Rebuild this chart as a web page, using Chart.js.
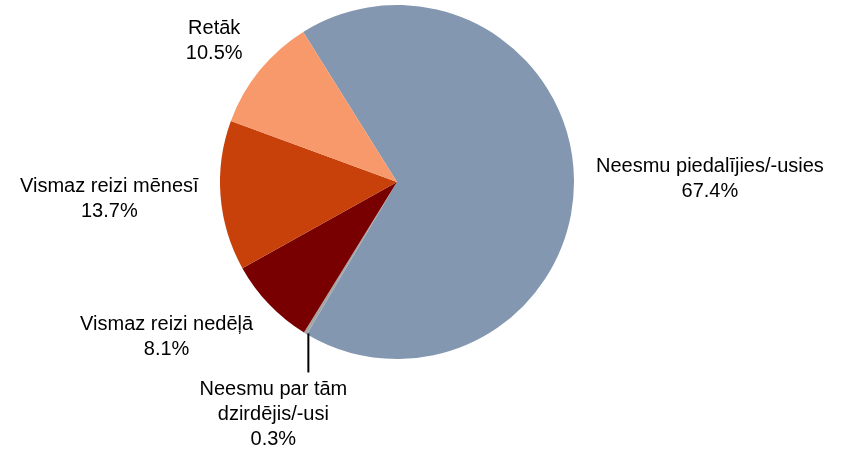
<!DOCTYPE html>
<html>
<head>
<meta charset="utf-8">
<script src="https://cdn.jsdelivr.net/npm/chart.js@4/dist/chart.umd.min.js"></script>
<style>
  html, body { margin: 0; padding: 0; background: #fff; }
  #wrap { width: 842px; height: 450px; position: relative; }
</style>
</head>
<body>
<div id="wrap"><canvas id="chartPie"></canvas></div>
<script>
const labels = [
    ["Neesmu piedalījies/-usies"],
    ["Neesmu par tām", "dzirdējis/-usi"],
    ["Vismaz reizi nedēļā"],
    ["Vismaz reizi mēnesī"],
    ["Retāk"],
];
const values = [67.4, 0.3, 8.1, 13.7, 10.5];
const colors = ["#8497B0", "#A5A5A5", "#780000", "#C8410A", "#F8996B"];

const FONT = "20px 'Liberation Sans', Arial, sans-serif";
const LINE_H = 25;

// Label luar pie ala Excel
const outsideLabels = {
    id: "outsideLabels",
    afterDatasetsDraw(chart) {
        const { ctx } = chart;
        const meta = chart.getDatasetMeta(0);
        ctx.save();
        ctx.font = FONT;
        ctx.fillStyle = "#000";
        ctx.textBaseline = "middle";
        meta.data.forEach((arc, i) => {
            const lines = labels[i].concat([values[i].toFixed(1) + "%"]);
            const mid = (arc.startAngle + arc.endAngle) / 2;
            const cx = arc.x, cy = arc.y, r = arc.outerRadius;
            const cos = Math.cos(mid), sin = Math.sin(mid);
            const h = lines.length * LINE_H;
            const w = Math.max(...lines.map((l) => ctx.measureText(l).width));
            let bx, by;
            if (values[i] < 1) {
                // slice kecil: garis penunjuk ke bawah
                const ex = cx + r * cos, ey = cy + r * sin;
                ctx.strokeStyle = "#000";
                ctx.lineWidth = 2;
                ctx.beginPath();
                ctx.moveTo(ex + 3, ey);
                ctx.lineTo(ex + 3, ey + 39);
                ctx.stroke();
                bx = ex - 32;
                by = ey + 39 + 5 + h / 2;
            } else {
                const ax = cx + (r + 22) * cos, ay = cy + (r + 22) * sin;
                bx = cos >= 0 ? ax + w / 2 : ax - w / 2;
                by = ay + (h / 2) * sin;
            }
            ctx.textAlign = "center";
            lines.forEach((l, k) => {
                ctx.fillText(l, bx, by - h / 2 + LINE_H / 2 + k * LINE_H);
            });
        });
        ctx.restore();
    },
};

new Chart(document.getElementById("chartPie"), {
    type: "pie",
    data: {
        labels: labels.map((l) => l.join(" ")),
        datasets: [
            {
                data: values,
                backgroundColor: colors,
                borderWidth: 0,
            },
        ],
    },
    options: {
        responsive: true,
        maintainAspectRatio: false,
        animation: false,
        rotation: -32,
        layout: { padding: { left: 220, right: 268, top: 5, bottom: 91 } },
        plugins: {
            legend: { display: false },
            tooltip: { enabled: false },
        },
    },
    plugins: [outsideLabels],
});
</script>
</body>
</html>
